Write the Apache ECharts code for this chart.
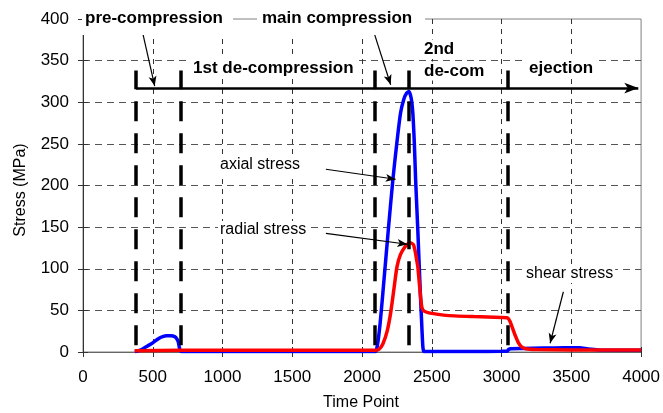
<!DOCTYPE html>
<html>
<head>
<meta charset="utf-8">
<script src="https://cdn.jsdelivr.net/npm/echarts/dist/echarts.min.js"></script>
<style>
html,body{margin:0;padding:0;background:#fff;}
#chart{width:663px;height:413px;}
</style>
</head>
<body>
<div id="chart"></div>
<script>
// ---- axis settings ----
const xMin = 0, xMax = 4000, xStep = 500;
const yMin = 0, yMax = 400, yStep = 50;

// ---- series data ----
const axialTime = [371, 400, 430, 460, 500, 540, 571, 600, 630, 657, 672, 683, 690, 697, 710, 1000, 1500, 2000, 2095, 2110, 2130, 2157, 2190, 2221, 2250, 2276, 2300, 2320, 2336, 2352, 2364, 2375, 2384, 2400, 2414, 2426, 2436, 2445, 2600, 2800, 3000, 3040, 3050, 3065, 3150, 3300, 3450, 3560, 3620, 3700, 4000];
const axialStress = [0.5, 1.5, 4, 7, 11, 16, 18.5, 19.5, 19.5, 18.5, 16, 12, 6, 1.5, 0.5, 0.5, 0.5, 0.5, 0.5, 8, 35, 86, 150, 207, 252, 287, 304, 311, 313, 305, 287, 250, 207, 145, 86, 40, 6, 0.5, 0.5, 0.5, 0.8, 1, 3, 4, 4.3, 4.8, 5, 5, 3.5, 2.5, 2];

const radialTime = [371, 700, 1500, 2090, 2120, 2150, 2180, 2205, 2228, 2250, 2275, 2307, 2330, 2350, 2368, 2382, 2392, 2400, 2412, 2422, 2430, 2445, 2479, 2600, 2800, 3000, 3043, 3060, 3080, 3100, 3121, 3145, 3171, 3250, 3500, 4000];
const radialStress = [1.5, 2, 2, 2, 3, 10, 25, 47, 75, 102, 117, 126, 130, 131, 129, 120, 110, 102, 80, 62, 53, 49, 47, 44, 42.5, 41.5, 41, 37, 28, 19, 11, 6, 4, 3, 2.5, 2.5];

// ---- phase annotations (data coordinates) ----
const phaseBoundaries = [379, 700, 2091, 2336, 3043];
const phaseSpan = [8, 338];
const phaseArrowY = 317;
const phaseArrowX = [379, 3980];

const pointerArrows = [
  { from: [431, 381], to: [514, 319.5], curve: 0.12 },   // pre-compression
  { from: [2091, 381], to: [2205, 321], curve: 0.12 },   // main compression
  { from: [1741, 219.5], to: [2241, 207.5], curve: 0 },  // axial stress
  { from: [1741, 142.5], to: [2324, 129.4], curve: 0 },  // radial stress
  { from: [3443, 72.4], to: [3348, 10.5], curve: 0 }     // shear stress
];

const FONT = '"Liberation Sans", Arial, Helvetica, sans-serif';

const zip = (xs, ys) => xs.map((x, i) => [x, ys[i]]);

const chart = echarts.init(document.getElementById('chart'), null, { renderer: 'canvas' });

function txt(text, x, y, opts) {
  opts = opts || {};
  return {
    type: 'text', x: x, y: y, z: 60, silent: true,
    rotation: opts.rotation || 0,
    style: {
      text: text,
      font: (opts.bold ? 'bold ' : '') + (opts.size || 16) + 'px ' + FONT,
      fill: '#000',
      textAlign: opts.align || 'left',
      textVerticalAlign: 'middle',
      backgroundColor: opts.bg === false ? null : '#fff',
      padding: opts.bg === false ? 0 : [1, 2]
    }
  };
}

const option = {
  animation: false,
  backgroundColor: '#fff',
  grid: { left: 83, right: 20, top: 19, bottom: 61, show: true, borderColor: '#808080', borderWidth: 1, containLabel: false },
  xAxis: [{
    type: 'value', min: xMin, max: xMax, interval: xStep, position: 'bottom',
    axisLine: { show: true, onZero: false, lineStyle: { color: '#666', width: 1 } },
    axisTick: { show: true, inside: false, length: 5, lineStyle: { color: '#333' } },
    axisLabel: { color: '#000', fontSize: 17, fontFamily: FONT, margin: 17, formatter: v => String(v) },
    splitLine: { show: true, showMinLine: false, showMaxLine: false, lineStyle: { color: '#333', type: [5, 5], width: 1 } }
  }, {
    type: 'value', min: xMin, max: xMax, interval: xStep, position: 'bottom',
    axisLine: { show: false }, axisLabel: { show: false }, splitLine: { show: false },
    axisTick: { show: true, inside: true, length: 5, lineStyle: { color: '#333' } }
  }],
  yAxis: [{
    type: 'value', min: yMin, max: yMax, interval: yStep, position: 'left',
    axisLine: { show: true, onZero: false, lineStyle: { color: '#333', width: 1 } },
    axisTick: { show: true, inside: false, length: 5, lineStyle: { color: '#333' } },
    axisLabel: { color: '#000', fontSize: 17, fontFamily: FONT, margin: 14, formatter: v => String(v) },
    splitLine: { show: true, showMinLine: false, showMaxLine: false, lineStyle: { color: '#555', type: [7, 5], width: 1 } }
  }, {
    type: 'value', min: yMin, max: yMax, interval: yStep, position: 'left',
    axisLine: { show: false }, axisLabel: { show: false }, splitLine: { show: false },
    axisTick: { show: true, inside: true, length: 5, lineStyle: { color: '#333' } }
  }],
  series: [
    {
      name: 'axial stress', type: 'line', data: zip(axialTime, axialStress),
      showSymbol: false, smooth: 0.2, z: 3,
      lineStyle: { color: '#0000ff', width: 3.5 }
    },
    {
      name: 'radial stress', type: 'line', data: zip(radialTime, radialStress),
      showSymbol: false, smooth: 0.2, z: 4,
      lineStyle: { color: '#ff0000', width: 3.5 }
    },
    {
      name: 'phases', type: 'line', data: [], z: 5,
      markLine: {
        silent: true, symbol: ['none', 'none'], label: { show: false },
        lineStyle: { color: '#000', width: 3.5, type: [20, 12] },
        data: phaseBoundaries.map(x => [{ coord: [x, phaseSpan[0]] }, { coord: [x, phaseSpan[1]] }])
      }
    },
    {
      name: 'phase arrow', type: 'line', data: [], z: 6,
      markLine: {
        silent: true, symbol: ['none', 'arrow'], symbolSize: [8, 14], label: { show: false },
        lineStyle: { color: '#000', width: 2.5, type: 'solid' },
        data: [[{ coord: [phaseArrowX[0], phaseArrowY] }, { coord: [phaseArrowX[1], phaseArrowY] }]]
      }
    },
    {
      name: 'pointers', type: 'line', data: [], z: 7,
      markLine: {
        silent: true, symbol: ['none', 'arrow'], symbolSize: [6, 10], label: { show: false },
        lineStyle: { color: '#000', width: 1.2, type: 'solid' },
        data: pointerArrows.map(a => [
          { coord: a.from, lineStyle: { curveness: a.curve } },
          { coord: a.to }
        ])
      }
    }
  ],
  graphic: [
    { type: 'rect', z: 50, silent: true, shape: { x: 82, y: 2, width: 151, height: 33 }, style: { fill: '#fff' } },
    { type: 'rect', z: 50, silent: true, shape: { x: 257, y: 2, width: 168, height: 33 }, style: { fill: '#fff' } },
    txt('pre-compression', 85, 18, { bold: true, size: 17, bg: false }),
    txt('main compression', 262, 18, { bold: true, size: 17, bg: false }),
    txt('1st de-compression', 191, 68, { bold: true, size: 17 }),
    txt('2nd', 422, 49, { bold: true, size: 17 }),
    txt('de-com', 422, 71, { bold: true, size: 17 }),
    txt('ejection', 527, 68, { bold: true, size: 17 }),
    txt('axial stress', 218, 165, { size: 16 }),
    txt('radial stress', 218, 230, { size: 16 }),
    txt('shear stress', 524, 274, { size: 16 }),
    txt('Time Point', 361, 403, { size: 16, align: 'center', bg: false }),
    txt('Stress (MPa)', 21, 190, { size: 16, align: 'center', bg: false, rotation: Math.PI / 2 })
  ]
};

chart.setOption(option);
</script>
</body>
</html>
